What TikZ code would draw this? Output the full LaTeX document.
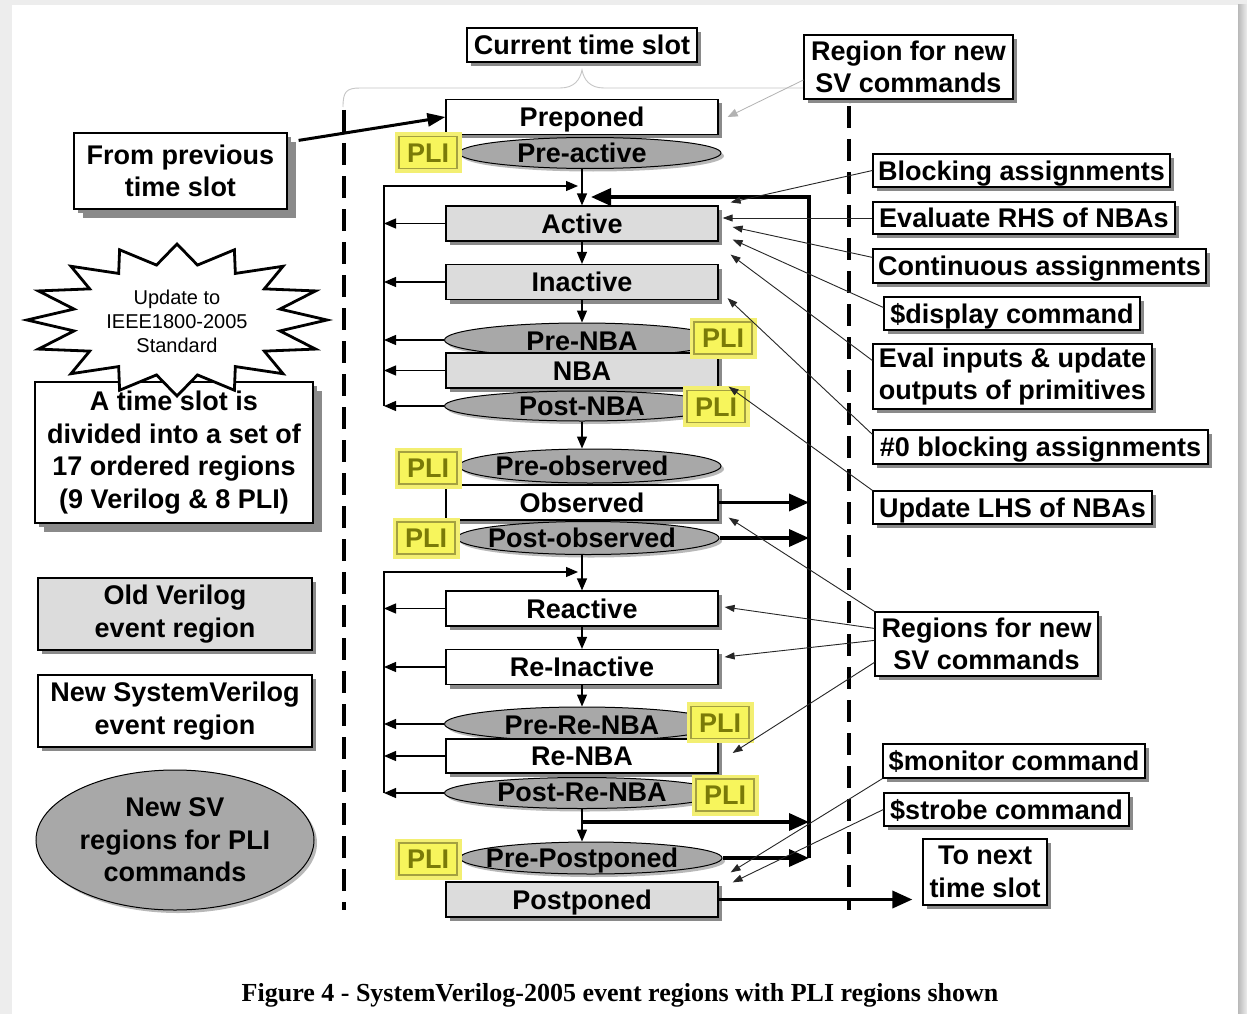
\documentclass[tikz,border=0pt]{standalone}
\usepackage{fontspec}
\setmainfont{Liberation Sans}
\newfontfamily\capfont{Liberation Serif}
\usetikzlibrary{arrows.meta,shapes.geometric,shadows,calc}

\definecolor{boxgray}{HTML}{DCDCDC}
\definecolor{ellgray}{HTML}{A8A8A8}
\definecolor{shade}{HTML}{8A8A8A}
\definecolor{hlyellow}{HTML}{F3EF72}
\definecolor{pliyellow}{HTML}{F7F55C}
\definecolor{pliedge}{HTML}{A4A040}
\definecolor{plitext}{HTML}{7A7A08}
\definecolor{pagebg}{HTML}{EDEDED}

\tikzset{
  lbl/.style={font=\fontsize{27}{32.5}\selectfont\bfseries},
  oneline/.style={text height=19.5pt, text depth=0pt},
  box/.style={draw=black, line width=1.2pt, fill=white, inner sep=0pt, align=center, lbl,
    drop shadow={shadow xshift=4pt, shadow yshift=-4pt, fill=shade, opacity=1}},
  bigbox/.style={box, drop shadow={shadow xshift=9pt, shadow yshift=-9pt, fill=shade, opacity=1}},
  region/.style={box, oneline, minimum width=272pt, minimum height=35pt},
  oldregion/.style={region, fill=boxgray},
  pliregion/.style={ellipse, draw=black, line width=1pt, fill=ellgray, inner sep=0pt,
    drop shadow={shadow xshift=3pt, shadow yshift=-3pt, fill=shade, opacity=.6}},
  regtext/.style={lbl, oneline, inner sep=0pt},
  pli/.style={draw=pliedge, line width=1.2pt, fill=pliyellow, text=plitext, lbl, oneline,
    minimum width=58pt, minimum height=32pt, inner sep=0pt,
    preaction={draw=hlyellow, fill=hlyellow, line width=9pt}},
  thinarrow/.style={draw=black!85, line width=0.9pt, -{Triangle[length=10pt,width=7pt]}},
  looparrow/.style={line width=1.2pt, -{Triangle[length=12pt,width=10pt]}},
  thickarrow/.style={line width=3.5pt, -{Triangle[length=20pt,width=17pt]}},
  divider/.style={line width=3.5pt, dash pattern=on 22pt off 11pt},
}

\begin{document}
\begin{tikzpicture}[x=1pt,y=-1pt]
\useasboundingbox (0,0) rectangle (1247,1014);

% page
\fill[pagebg] (0,0) rectangle (1247,1014);
\fill[white] (12,5) rectangle (1238,1014);
\shade[left color=gray!55, right color=pagebg] (1238,5) rectangle (1247,1014);

% brace over the current time slot
\draw[gray!45, line width=0.9pt] (343,107) .. controls (343,92) and (346,88) .. (360,88)
  -- (560,88) .. controls (574,88) and (580,80) .. (582,70)
  .. controls (584,80) and (590,88) .. (604,88) -- (836,88)
  .. controls (848,88) and (850,94) .. (850,104);

% time slot boundaries
\draw[divider] (344,110) -- (344,910);
\draw[divider] (849,106) -- (849,910);

% headings
\node[box, oneline, minimum width=230pt, minimum height=34pt] (cur) at (582,45) {Current time slot};
\node[box, minimum width=209pt, minimum height=64pt] (regtop) at (908.5,67) {Region for new\\SV commands};

% left-hand notes and legend
\node[bigbox, minimum width=213pt, minimum height=76pt] (prev) at (180.5,171) {From previous\\time slot};
\node[bigbox, minimum width=278pt, minimum height=141pt] (slot) at (174,452.5)
  {A time slot is\\divided into a set of\\17 ordered regions\\(9 Verilog \& 8 PLI)};
\draw[line width=2.8pt, fill=white, line join=miter] (327,320)
  \foreach \k in {1,...,31}{ -- ({177+ifthenelse(isodd(\k),105,150)*cos(\k*11.25)},
                               {320+ifthenelse(isodd(\k),56,76)*sin(\k*11.25)}) } -- cycle;
\node[font=\fontsize{20}{24}\selectfont, align=center, inner sep=0pt] (upd) at (177,321)
  {Update to\\IEEE1800-2005\\Standard};
\node[box, fill=boxgray, minimum width=274pt, minimum height=72pt] (old) at (175,614) {Old Verilog\\event region};
\node[box, minimum width=274pt, minimum height=72pt] (newsv) at (175,711) {New SystemVerilog\\event region};
\node[pliregion, lbl, align=center, minimum width=278pt, minimum height=140pt] (newpli) at (175,840)
  {New SV\\regions for PLI\\commands};

% right-hand loop back to Active
\coordinate (rtop) at (809,197);
\coordinate (rbot) at (809,858);
\coordinate (rin) at (591,197);
\draw[thickarrow] (rbot) -- (rtop) -- (rin);

% left-hand loops
\coordinate (l1t) at (384,186);
\coordinate (l1b) at (384,406);
\coordinate (l1in) at (578,186);
\coordinate (l2t) at (384,572);
\coordinate (l2b) at (384,793);
\coordinate (l2in) at (578,572);
\draw[looparrow] (l1b) -- (l1t) -- (l1in);
\draw[looparrow] (l2b) -- (l2t) -- (l2in);

% event regions
\node[region] (prep) at (582,117) {Preponed};
\node[pliregion, minimum width=262pt, minimum height=31pt] (preact) at (590,153) {};
\node[regtext] (preactT) at (582,153) {Pre-active};
\node[pli] (pli1) at (428,152.5) {PLI};
\node[oldregion] (act) at (582,223.5) {Active};
\node[oldregion] (inact) at (582,282) {Inactive};
\node[pliregion, minimum width=275pt, minimum height=34pt] (prenba) at (582,340) {};
\node[regtext] (prenbaT) at (582,341) {Pre-NBA};
\node[oldregion] (nba) at (582,370.5) {NBA};
\node[pliregion, minimum width=275pt, minimum height=30pt] (postnba) at (582,406) {};
\node[regtext] (postnbaT) at (582,406) {Post-NBA};
\node[pli] (pli2) at (723,338) {PLI};
\node[pli] (pli3) at (716,406.5) {PLI};
\node[pliregion, minimum width=262pt, minimum height=34pt] (preobs) at (590,466) {};
\node[regtext] (preobsT) at (582,466) {Pre-observed};
\node[region] (obs) at (582,502.5) {Observed};
\node[pliregion, minimum width=262pt, minimum height=33pt] (postobs) at (588,538) {};
\node[regtext] (postobsT) at (582,538) {Post-observed};
\node[pli] (pli4) at (428,468) {PLI};
\node[pli] (pli5) at (426,538) {PLI};
\node[region] (react) at (582,608.5) {Reactive};
\node[region] (reinact) at (582,667) {Re-Inactive};
\node[pliregion, minimum width=275pt, minimum height=34pt] (prerenba) at (582,724) {};
\node[regtext] (prerenbaT) at (582,725) {Pre-Re-NBA};
\node[region, minimum height=34pt] (renba) at (582,756) {Re-NBA};
\node[pliregion, minimum width=275pt, minimum height=31pt] (postrenba) at (582,793) {};
\node[regtext] (postrenbaT) at (582,792) {Post-Re-NBA};
\node[pli] (pli6) at (720,722.5) {PLI};
\node[pli] (pli7) at (725,795) {PLI};
\node[pliregion, minimum width=262pt, minimum height=32pt] (prepost) at (591,858) {};
\node[regtext] (prepostT) at (582,858) {Pre-Postponed};
\node[pli] (pli8) at (428,859) {PLI};
\node[oldregion] (postp) at (582,899.5) {Postponed};

% command labels
\node[box, oneline, minimum width=297pt, minimum height=33pt] (blk) at (1021.5,170.5) {Blocking assignments};
\node[box, oneline, minimum width=302pt, minimum height=32pt] (rhs) at (1024,218) {Evaluate RHS of NBAs};
\node[box, oneline, minimum width=333pt, minimum height=34pt] (cont) at (1039.5,266) {Continuous assignments};
\node[box, oneline, minimum width=256pt, minimum height=33pt] (disp) at (1012,313.5) {\$display command};
\node[box, align=left, minimum width=279pt, minimum height=65pt] (evin) at (1012.5,376.5) {Eval inputs \& update\\outputs of primitives};
\node[box, oneline, minimum width=335pt, minimum height=34pt] (zero) at (1040.5,447) {\#0 blocking assignments};
\node[box, oneline, minimum width=279pt, minimum height=33pt] (lhs) at (1012.5,507.5) {Update LHS of NBAs};
\node[box, minimum width=223pt, minimum height=64pt] (regs) at (986.5,644) {Regions for new\\SV commands};
\node[box, oneline, minimum width=262pt, minimum height=34pt] (mon) at (1014,761) {\$monitor command};
\node[box, oneline, minimum width=245pt, minimum height=33pt] (strb) at (1006.5,809.5) {\$strobe command};
\node[box, minimum width=124pt, minimum height=66pt] (next) at (985,872) {To next\\time slot};

% flow down the regions
\draw[looparrow] (act.north |- preact.south) -- (act.north);
\draw[looparrow] (act.south) -- (inact.north);
\draw[looparrow] (inact.south) -- (inact.south |- prenba.north);
\draw[looparrow] (postnba.south) -- (postnba.south |- preobs.north);
\draw[looparrow] (react.north |- postobs.south) -- (react.north);
\draw[looparrow] (react.south) -- (reinact.north);
\draw[looparrow] (reinact.south) -- (reinact.south |- prerenba.north);
\draw[looparrow] (postrenba.south) -- (postrenba.south |- prepost.north);

% returns to the left-hand loops
\foreach \r in {act, inact, prenba, nba, postnba}
  \draw[looparrow] (\r.west) -- (\r.west -| l1t);
\foreach \r in {react, reinact, prerenba, renba, postrenba}
  \draw[looparrow] (\r.west) -- (\r.west -| l2t);

% returns to the right-hand loop
\coordinate (tap) at (583,822);
\draw[thickarrow] (obs.east) -- (obs.east -| rtop);
\draw[thickarrow] (postobs.east) -- (postobs.east -| rtop);
\draw[thickarrow] (tap) -- (tap -| rtop);
\draw[thickarrow] (prepost.east) -- (prepost.east -| rtop);

% into and out of the time slot
\draw[line width=3pt, -{Triangle[length=18pt,width=13pt]}] ($(prev.north east)+(11,8)$) -- (prep.west);
\draw[thickarrow] (postp.east) -- ($(postp.east -| next.west)+(-10,0)$);
\draw[gray!60, line width=0.8pt, -{Triangle[length=10pt,width=8pt]}] ($(regtop.west)+(0,13)$) -- ($(prep.east)+(9,0)$);

% commands to regions
\draw[thinarrow] (blk.west) -- ($(act.north east)+(12,-3)$);
\draw[thinarrow] (rhs.west) -- ($(act.east)+(4,-5.5)$);
\draw[thinarrow] ($(cont.north west)+(0,9)$) -- ($(act.east)+(14,3.5)$);
\draw[thinarrow] ($(disp.west)+(0,-6)$) -- ($(act.east)+(14,16)$);
\draw[thinarrow] ($(evin.west)+(0,-16)$) -- ($(act.south east)+(12,13)$);
\draw[thinarrow] ($(zero.north west)+(0,5)$) -- ($(inact.south east)+(9,-2)$);
\draw[thinarrow] (lhs.north west) -- ($(nba.south east)+(10,-2)$);
\draw[thinarrow] (regs.north west) -- ($(obs.south east)+(10,-3)$);
\draw[thinarrow] ($(regs.north west)+(0,17)$) -- ($(react.east)+(6,-1.5)$);
\draw[thinarrow] ($(regs.north west)+(0,29)$) -- ($(reinact.east)+(6,-10)$);
\draw[thinarrow] ($(regs.north west)+(0,51)$) -- ($(renba.east)+(14,-3)$);
\draw[thinarrow] (mon.south west) -- ($(postp.north east)+(12,-9)$);
\draw[thinarrow] (strb.west) -- ($(postp.north east)+(14,1)$);

% caption
\node[font=\capfont\bfseries\fontsize{26}{30}\selectfont, inner sep=0pt] (cap) at (620,995)
  {Figure 4 - SystemVerilog-2005 event regions with PLI regions shown};
\end{tikzpicture}
\end{document}
